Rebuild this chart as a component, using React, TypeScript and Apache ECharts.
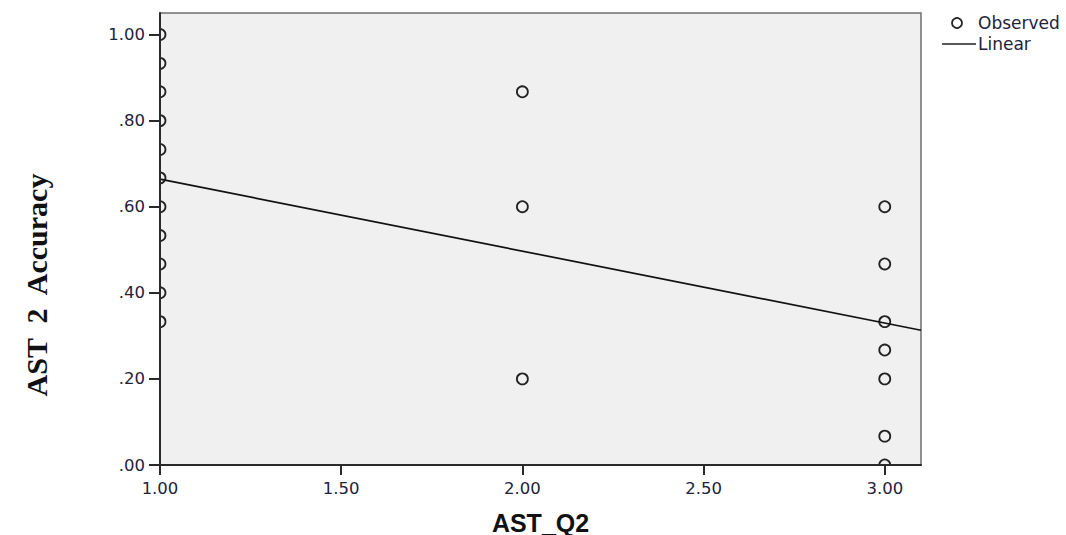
import React, { useEffect, useRef } from "react";
import * as echarts from "echarts";

// Observed points: [AST_Q2, AST 2 Accuracy]
const obsX1: number[] = [1.0, 0.933, 0.867, 0.8, 0.733, 0.667, 0.6, 0.533, 0.467, 0.4, 0.333];
const obsX2: number[] = [0.867, 0.6, 0.2];
const obsX3: number[] = [0.6, 0.467, 0.333, 0.267, 0.2, 0.067, 0.0];
// Linear fit endpoints
const fitX: number[] = [1.0, 3.1];
const fitY: number[] = [0.664, 0.313];
const xTicks: number[] = [1.0, 1.5, 2.0, 2.5, 3.0];
const yTicks: number[] = [0, 0.2, 0.4, 0.6, 0.8, 1.0];

const xName = "AST_Q2";
const yName = "AST  2  Accuracy";

export default function App() {
  const ref = useRef<HTMLDivElement>(null);
  useEffect(() => {
    if (!ref.current) return;
    const chart = echarts.init(ref.current, undefined, { renderer: "svg" });
    const points: number[][] = [
      ...obsX1.map((v) => [1, v]),
      ...obsX2.map((v) => [2, v]),
      ...obsX3.map((v) => [3, v]),
    ];
    const labelColor = "#22223a";
    const sans = "'DejaVu Sans', Verdana, sans-serif";
    chart.setOption({
      animation: false,
      backgroundColor: "#ffffff",
      grid: {
        left: 160,
        top: 13,
        width: 761,
        height: 452,
        containLabel: false,
        outerBoundsMode: "none",
        show: true,
        backgroundColor: "#f0f0f0",
        borderColor: "#6e6e6e",
        borderWidth: 1.5,
        z: 0,
      },
      xAxis: {
        type: "value",
        min: 1,
        max: 3.1,
        z: 10,
        splitLine: { show: false },
        axisLine: { show: true, onZero: false, lineStyle: { color: "#2a2a2a", width: 2 } },
        axisTick: {
          show: true,
          length: 10,
          customValues: xTicks,
          lineStyle: { color: "#2a2a2a", width: 2 },
        },
        axisLabel: {
          customValues: xTicks,
          formatter: (v: number) => v.toFixed(2),
          color: labelColor,
          fontFamily: sans,
          fontSize: 16.5,
          margin: 15,
        },
        name: xName,
        nameLocation: "middle",
        nameGap: 45,
        nameTextStyle: {
          fontFamily: "'Liberation Sans', Arial, sans-serif",
          fontWeight: "bold",
          fontSize: 25,
          color: "#111",
        },
      },
      yAxis: {
        type: "value",
        min: 0,
        max: 1.05,
        z: 10,
        splitLine: { show: false },
        axisLine: { show: true, onZero: false, lineStyle: { color: "#2a2a2a", width: 2 } },
        axisTick: {
          show: true,
          length: 11,
          customValues: yTicks,
          lineStyle: { color: "#2a2a2a", width: 2 },
        },
        axisLabel: {
          customValues: yTicks,
          formatter: (v: number) => {
            const s = v.toFixed(2);
            return s.startsWith("0") ? s.slice(1) : s;
          },
          color: labelColor,
          fontFamily: sans,
          fontSize: 16.5,
          margin: 15,
        },
      },
      graphic: [
        {
          type: "text",
          z: 20,
          x: 36,
          y: 285,
          rotation: Math.PI / 2,
          style: {
            text: yName,
            font: "bold 30px 'Liberation Serif', 'Times New Roman', serif",
            fill: "#111",
            align: "center",
            verticalAlign: "middle",
          },
        },
        {
          type: "circle",
          z: 20,
          shape: { cx: 957, cy: 23, r: 5 },
          style: { fill: "none", stroke: "#222", lineWidth: 1.7 },
        },
        {
          type: "text",
          z: 20,
          x: 978,
          y: 23,
          style: { text: "Observed", font: `17px ${sans}`, fill: labelColor, verticalAlign: "middle" },
        },
        {
          type: "line",
          z: 20,
          shape: { x1: 942, y1: 44, x2: 976, y2: 44 },
          style: { stroke: "#222", lineWidth: 1.7 },
        },
        {
          type: "text",
          z: 20,
          x: 978,
          y: 44,
          style: { text: "Linear", font: `17px ${sans}`, fill: labelColor, verticalAlign: "middle" },
        },
      ],
      series: [
        {
          name: "Observed",
          type: "custom",
          data: points,
          clip: true,
          z: 2,
          encode: { x: 0, y: 1 },
          renderItem: (_params: any, api: any) => {
            const p = api.coord([api.value(0), api.value(1)]);
            return {
              type: "circle",
              shape: { cx: p[0], cy: p[1], r: 5.5 },
              style: { fill: "none", stroke: "#222", lineWidth: 1.8 },
            };
          },
          emphasis: { disabled: true },
        },
        {
          name: "Linear",
          type: "line",
          data: fitX.map((x, i) => [x, fitY[i]]),
          symbol: "none",
          z: 3,
          lineStyle: { color: "#111", width: 1.7 },
          emphasis: { disabled: true },
        },
      ],
    });
    return () => chart.dispose();
  }, []);
  return (
    <div
      ref={ref}
      style={{ position: "fixed", left: 0, top: 0, width: 1066, height: 535 }}
    />
  );
}
